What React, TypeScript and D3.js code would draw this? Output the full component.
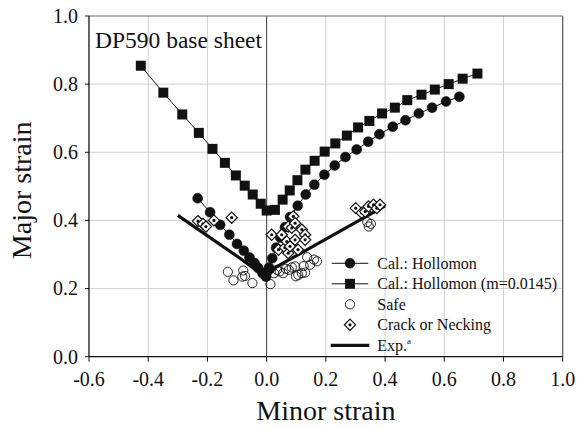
import React from "react";
import * as d3 from "d3";

// Forming limit data (minor strain, major strain)
const calHollomon: [number, number][] = [
  [-0.233, 0.465], [-0.191, 0.424], [-0.157, 0.387], [-0.126, 0.358], [-0.1, 0.331],
  [-0.077, 0.311], [-0.058, 0.291], [-0.041, 0.275], [-0.028, 0.26], [-0.014, 0.245],
  [-0.002, 0.235], [0.008, 0.262], [0.019, 0.289], [0.032, 0.32], [0.046, 0.35],
  [0.062, 0.38], [0.079, 0.41], [0.105, 0.443], [0.132, 0.476], [0.161, 0.505],
  [0.195, 0.534], [0.23, 0.561], [0.266, 0.586], [0.304, 0.608], [0.343, 0.631],
  [0.381, 0.653], [0.426, 0.675], [0.469, 0.694], [0.514, 0.714], [0.559, 0.731],
  [0.606, 0.749], [0.651, 0.763],
];

const calHollomonM: [number, number][] = [
  [-0.425, 0.854], [-0.349, 0.775], [-0.285, 0.711], [-0.229, 0.657], [-0.183, 0.61],
  [-0.141, 0.569], [-0.104, 0.532], [-0.074, 0.502], [-0.047, 0.476], [-0.02, 0.449],
  [0.0, 0.429], [0.028, 0.431], [0.054, 0.461], [0.078, 0.488], [0.104, 0.518],
  [0.131, 0.549], [0.162, 0.575], [0.196, 0.602], [0.232, 0.626], [0.271, 0.649],
  [0.309, 0.673], [0.347, 0.692], [0.39, 0.714], [0.433, 0.731], [0.475, 0.753],
  [0.523, 0.769], [0.568, 0.784], [0.615, 0.8], [0.662, 0.816], [0.712, 0.831],
];

const safe: [number, number][] = [
  [-0.131, 0.249], [-0.112, 0.224], [-0.079, 0.253], [-0.073, 0.237], [-0.082, 0.235],
  [-0.048, 0.216], [0.013, 0.213], [0.025, 0.245], [0.035, 0.255], [0.044, 0.25],
  [0.056, 0.245], [0.065, 0.258], [0.075, 0.255], [0.085, 0.262], [0.096, 0.265],
  [0.099, 0.236], [0.107, 0.24], [0.119, 0.245], [0.13, 0.247], [0.125, 0.266],
  [0.137, 0.292], [0.147, 0.27], [0.16, 0.285], [0.17, 0.28], [0.34, 0.395],
  [0.345, 0.382], [0.352, 0.39],
];

const crack: [number, number][] = [
  [-0.232, 0.398], [-0.215, 0.39], [-0.205, 0.382], [-0.178, 0.4], [-0.118, 0.408],
  [0.017, 0.358], [0.04, 0.314], [0.051, 0.358], [0.062, 0.32], [0.068, 0.338],
  [0.073, 0.304], [0.073, 0.382], [0.079, 0.324], [0.085, 0.378], [0.09, 0.412],
  [0.096, 0.343], [0.096, 0.392], [0.106, 0.314], [0.119, 0.373], [0.13, 0.358],
  [0.13, 0.343], [0.301, 0.436], [0.321, 0.422], [0.333, 0.426], [0.344, 0.441],
  [0.361, 0.446], [0.372, 0.436], [0.383, 0.446],
];

const experiment: [number, number][] = [
  [-0.3, 0.415], [-0.09, 0.289], [-0.01, 0.238], [0.0, 0.232], [0.03, 0.262], [0.4, 0.443],
];

const xTicks = [-0.6, -0.4, -0.2, 0.0, 0.2, 0.4, 0.6, 0.8, 1.0];
const yTicks = [0.0, 0.2, 0.4, 0.6, 0.8, 1.0];

const legendLabels = [
  "Cal.: Hollomon",
  "Cal.: Hollomon (m=0.0145)",
  "Safe",
  "Crack or Necking",
  "Exp.",
];

const W = 578;
const H = 428;
const left = 89;
const right = 562.7;
const top = 16;
const bottom = 356.7;
const font = "'Liberation Serif', 'Times New Roman', Times, serif";

const x = d3.scaleLinear().domain([-0.6, 1.0]).range([left, right]);
const y = d3.scaleLinear().domain([0, 1.0]).range([bottom, top]);
const line = d3
  .line<[number, number]>()
  .x((d) => x(d[0]))
  .y((d) => y(d[1]));

const Circle = ({ cx, cy, fill }: { cx: number; cy: number; fill: boolean }) => (
  <circle
    cx={cx}
    cy={cy}
    r={fill ? 5 : 4.6}
    fill={fill ? "#111" : "#fff"}
    fillOpacity={fill ? 1 : 0}
    stroke="#111"
    strokeWidth={fill ? 0.5 : 0.9}
  />
);

const Square = ({ cx, cy }: { cx: number; cy: number }) => (
  <rect x={cx - 5} y={cy - 5} width={10} height={10} fill="#111" />
);

const Diamond = ({ cx, cy }: { cx: number; cy: number }) => (
  <g>
    <path
      d={`M${cx},${cy - 5.6}L${cx + 5.6},${cy}L${cx},${cy + 5.6}L${cx - 5.6},${cy}Z`}
      fill="#fff"
      stroke="#111"
      strokeWidth={1.2}
    />
    <circle cx={cx} cy={cy} r={1.6} fill="#111" />
  </g>
);

export default function App() {
  const legX0 = 331.7;
  const legX1 = 368.3;
  const legMid = (legX0 + legX1) / 2;
  const legText = 377.3;
  const legRows = [263.3, 283.8, 304.3, 324.8, 345.3];

  return (
    <svg
      width={W}
      height={H}
      style={{ position: "fixed", left: 0, top: 0, background: "#fff", fontFamily: font }}
    >
      <rect x={0} y={0} width={W} height={H} fill="#fff" />
      {/* grid */}
      {xTicks.slice(1, -1).map((t) => (
        <line key={"gx" + t} x1={x(t)} x2={x(t)} y1={top} y2={bottom} stroke="#d2d2d2" strokeWidth={1} />
      ))}
      {yTicks.slice(1, -1).map((t) => (
        <line key={"gy" + t} x1={left} x2={right} y1={y(t)} y2={y(t)} stroke="#d2d2d2" strokeWidth={1} />
      ))}
      {/* zero minor strain reference */}
      <line x1={x(0)} x2={x(0)} y1={top} y2={bottom} stroke="#444" strokeWidth={1} />
      {/* frame */}
      <line x1={left} x2={right} y1={top} y2={top} stroke="#666" strokeWidth={1.2} />
      <line x1={right} x2={right} y1={top} y2={bottom} stroke="#555" strokeWidth={1.2} />
      <line x1={left} x2={left} y1={top} y2={bottom} stroke="#111" strokeWidth={1.3} />
      <line x1={left} x2={right} y1={bottom} y2={bottom} stroke="#111" strokeWidth={1.3} />
      {/* ticks */}
      {xTicks.map((t) => (
        <g key={"xt" + t}>
          <line x1={x(t)} x2={x(t)} y1={bottom} y2={bottom + 5} stroke="#111" strokeWidth={1} />
          <text x={x(t)} y={386} fontSize={20} textAnchor="middle" fill="#111" fontFamily={font}>
            {d3.format(".1f")(t).replace("−", "-")}
          </text>
        </g>
      ))}
      {yTicks.map((t) => (
        <g key={"yt" + t}>
          <line x1={left - 4} x2={left} y1={y(t)} y2={y(t)} stroke="#111" strokeWidth={1} />
          <text x={78} y={y(t)} dy="0.34em" fontSize={20} textAnchor="end" fill="#111" fontFamily={font}>
            {d3.format(".1f")(t)}
          </text>
        </g>
      ))}
      {/* axis titles */}
      <text x={(left + right) / 2} y={420} fontSize={28} textAnchor="middle" fill="#111" fontFamily={font}>
        Minor strain
      </text>
      <text
        transform={`translate(31,${(top + bottom) / 2 + 4}) rotate(-90)`}
        fontSize={28}
        textAnchor="middle"
        fill="#111"
        fontFamily={font}
      >
        Major strain
      </text>
      <text x={95} y={48} fontSize={23.5} fill="#111" fontFamily={font}>
        DP590 base sheet
      </text>

      {/* experimental limit curve */}
      <path d={line(experiment) ?? ""} fill="none" stroke="#111" strokeWidth={3.2} strokeLinejoin="round" />

      {/* calculated curves */}
      <path d={line(calHollomonM) ?? ""} fill="none" stroke="#111" strokeWidth={1} />
      {calHollomonM.map((d, i) => (
        <Square key={"s" + i} cx={x(d[0])} cy={y(d[1])} />
      ))}
      <path d={line(calHollomon) ?? ""} fill="none" stroke="#111" strokeWidth={1} />
      {calHollomon.map((d, i) => (
        <Circle key={"c" + i} cx={x(d[0])} cy={y(d[1])} fill={true} />
      ))}

      {/* measured strains */}
      {safe.map((d, i) => (
        <Circle key={"o" + i} cx={x(d[0])} cy={y(d[1])} fill={false} />
      ))}
      {crack.map((d, i) => (
        <Diamond key={"d" + i} cx={x(d[0])} cy={y(d[1])} />
      ))}

      {/* legend */}
      <g>
        <line x1={legX0} x2={legX1} y1={legRows[0]} y2={legRows[0]} stroke="#111" strokeWidth={1} />
        <Circle cx={legMid} cy={legRows[0]} fill={true} />
        <line x1={legX0} x2={legX1} y1={legRows[1]} y2={legRows[1]} stroke="#111" strokeWidth={1} />
        <Square cx={legMid} cy={legRows[1]} />
        <Circle cx={legMid} cy={legRows[2]} fill={false} />
        <Diamond cx={legMid} cy={legRows[3]} />
        <line x1={legX0 - 1} x2={legX1 + 1} y1={legRows[4]} y2={legRows[4]} stroke="#111" strokeWidth={3.2} />
        {legendLabels.map((l, i) => (
          <text key={l} x={legText} y={legRows[i]} dy="0.34em" fontSize={16} fill="#111" fontFamily={font}>
            {l}
            {i === 4 ? (
              <tspan fontSize={9} dy="-7">
                a
              </tspan>
            ) : null}
          </text>
        ))}
      </g>
    </svg>
  );
}
